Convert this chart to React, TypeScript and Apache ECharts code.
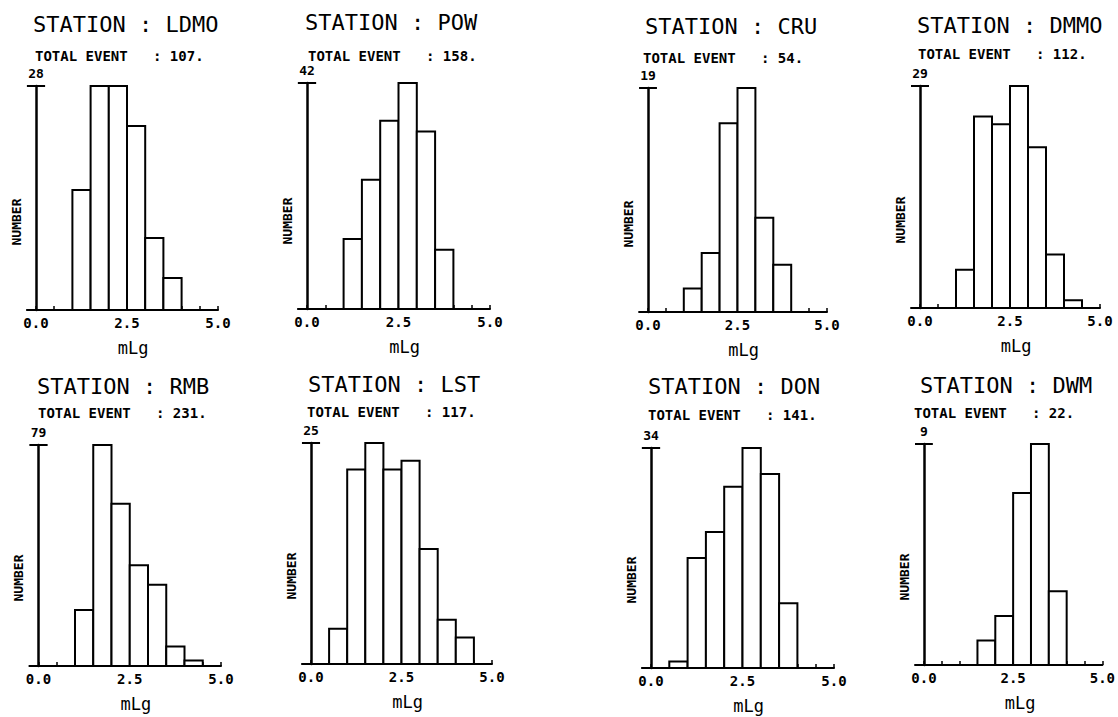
import React, { useEffect, useRef } from "react";
import * as echarts from "echarts";

// ---- data ----
const STATIONS = ["LDMO", "POW", "CRU", "DMMO", "RMB", "LST", "DON", "DWM"];
const BIN_EDGES = [0, 0.5, 1, 1.5, 2, 2.5, 3, 3.5, 4, 4.5, 5];
const COUNTS_LDMO = [0, 0, 15, 28, 28, 23, 9, 4, 0, 0];
const COUNTS_POW = [0, 0, 13, 24, 35, 42, 33, 11, 0, 0];
const COUNTS_CRU = [0, 0, 2, 5, 16, 19, 8, 4, 0, 0];
const COUNTS_DMMO = [0, 0, 5, 25, 24, 29, 21, 7, 1, 0];
const COUNTS_RMB = [0, 0, 20, 79, 58, 36, 29, 7, 2, 0];
const COUNTS_LST = [0, 4, 22, 25, 22, 23, 13, 5, 3, 0];
const COUNTS_DON = [0, 1, 17, 21, 28, 34, 30, 10, 0, 0];
const COUNTS_DWM = [0, 0, 0, 1, 2, 7, 9, 3, 0, 0];
const COUNTS = [
  COUNTS_LDMO, COUNTS_POW, COUNTS_CRU, COUNTS_DMMO,
  COUNTS_RMB, COUNTS_LST, COUNTS_DON, COUNTS_DWM,
];
const X_TICKS = [0, 0.5, 1, 1.5, 2, 2.5, 3, 3.5, 4, 4.5, 5];
const X_LABELS = [0, 2.5, 5];
const X_NAME = "mLg";
const Y_NAME = "NUMBER";

// ---- layout (pixels) ----
const PANELS = [
  { x0: 36, x5: 218, top: 86, base: 310, tx: 33, ty: 24.5, sx: 35, sy: 56 },
  { x0: 307, x5: 490, top: 83, base: 309, tx: 305, ty: 22.5, sx: 308, sy: 56 },
  { x0: 648, x5: 827, top: 88, base: 312, tx: 645, ty: 26.5, sx: 643, sy: 57.5 },
  { x0: 920, x5: 1100, top: 86, base: 308, tx: 917, ty: 25, sx: 918, sy: 54 },
  { x0: 38.5, x5: 221, top: 445, base: 666, tx: 37, ty: 386.5, sx: 38, sy: 413 },
  { x0: 311, x5: 492, top: 443, base: 664, tx: 308, ty: 384.5, sx: 307, sy: 412 },
  { x0: 651, x5: 834, top: 448, base: 668, tx: 648, ty: 386.5, sx: 648, sy: 415 },
  { x0: 924, x5: 1104, top: 444, base: 665, tx: 920, ty: 385, sx: 914, sy: 413 },
];

const MONO = '"DejaVu Sans Mono", "Liberation Mono", monospace';

export default function App() {
  const ref = useRef<HTMLDivElement>(null);

  useEffect(() => {
    if (!ref.current) return;
    const chart = echarts.init(ref.current, undefined, { renderer: "svg" });

    const grids: any[] = [];
    const xAxes: any[] = [];
    const yAxes: any[] = [];
    const series: any[] = [];
    const graphics: any[] = [];

    PANELS.forEach((p, i) => {
      const s = (p.x5 - p.x0) / 5;
      const counts = COUNTS[i];
      const maxv = Math.max(...counts);
      const total = counts.reduce((a, b) => a + b, 0);

      grids.push({
        left: p.x0 - 0.25 * s,
        top: p.top,
        width: 5.25 * s,
        height: p.base - p.top,
        containLabel: false,
      });

      xAxes.push({
        gridIndex: i,
        type: "value",
        min: -0.25,
        max: 5,
        axisLine: { show: true, onZero: false, lineStyle: { color: "#000", width: 2 } },
        axisTick: {
          show: true,
          inside: true,
          length: 4,
          customValues: X_TICKS,
          lineStyle: { color: "#000", width: 1.5 },
        },
        axisLabel: {
          show: true,
          customValues: X_LABELS,
          formatter: (v: number) => v.toFixed(1),
          color: "#000",
          fontFamily: MONO,
          fontWeight: "bold",
          fontSize: 14,
          margin: 6,
        },
        splitLine: { show: false },
      });

      yAxes.push({
        gridIndex: i,
        type: "value",
        min: 0,
        max: maxv,
        axisLine: { show: true, onZero: true, lineStyle: { color: "#000", width: 2.5 } },
        axisTick: { show: false },
        axisLabel: { show: false },
        splitLine: { show: false },
        name: String(maxv),
        nameLocation: "end",
        nameGap: 6,
        nameTextStyle: {
          color: "#000",
          fontFamily: MONO,
          fontWeight: "bold",
          fontSize: 13,
          align: "center",
        },
      });

      series.push({
        type: "custom",
        xAxisIndex: i,
        yAxisIndex: i,
        data: counts
          .map((c, k) => [BIN_EDGES[k], BIN_EDGES[k + 1], c])
          .filter((d) => d[2] > 0),
        encode: { x: [0, 1], y: 2 },
        renderItem: (_params: any, api: any) => {
          const a = api.coord([api.value(0), api.value(2)]);
          const b = api.coord([api.value(1), 0]);
          return {
            type: "rect",
            shape: { x: a[0], y: a[1], width: b[0] - a[0], height: b[1] - a[1] },
            style: { fill: "#fff", stroke: "#000", lineWidth: 2 },
          };
        },
      });

      series.push({
        type: "custom",
        xAxisIndex: i,
        yAxisIndex: i,
        data: [[-0.25, 0.25, maxv]],
        encode: { x: [0, 1], y: 2 },
        renderItem: (_params: any, api: any) => {
          const a = api.coord([api.value(0), api.value(2)]);
          const b = api.coord([api.value(1), api.value(2)]);
          return {
            type: "line",
            shape: { x1: a[0], y1: a[1], x2: b[0], y2: b[1] },
            style: { stroke: "#000", lineWidth: 2 },
          };
        },
      });

      graphics.push({
        type: "text",
        x: p.tx,
        y: p.ty,
        style: {
          text: "STATION : " + STATIONS[i],
          font: `22px ${MONO}`,
          fill: "#000",
          align: "left",
          verticalAlign: "middle",
          textAlign: "left",
          textVerticalAlign: "middle",
        },
      });
      graphics.push({
        type: "text",
        x: p.sx,
        y: p.sy,
        style: {
          text: "TOTAL EVENT   : " + total + ".",
          font: `bold 14px ${MONO}`,
          fill: "#000",
          align: "left",
          verticalAlign: "middle",
          textAlign: "left",
          textVerticalAlign: "middle",
        },
      });
      graphics.push({
        type: "text",
        x: p.x0 - 20,
        y: p.base - 88,
        rotation: Math.PI / 2,
        style: {
          text: Y_NAME,
          font: `bold 13px ${MONO}`,
          fill: "#000",
          align: "center",
          verticalAlign: "middle",
          textAlign: "center",
          textVerticalAlign: "middle",
        },
      });
      graphics.push({
        type: "text",
        x: p.x0 + 2.67 * s,
        y: p.base + 38,
        style: {
          text: X_NAME,
          font: `17px ${MONO}`,
          fill: "#000",
          align: "center",
          verticalAlign: "middle",
          textAlign: "center",
          textVerticalAlign: "middle",
        },
      });
    });

    chart.setOption({
      animation: false,
      backgroundColor: "#fff",
      grid: grids,
      xAxis: xAxes,
      yAxis: yAxes,
      series,
      graphic: graphics,
    });

    return () => chart.dispose();
  }, []);

  return (
    <div
      ref={ref}
      style={{ position: "fixed", left: 0, top: 0, width: 1118, height: 717, background: "#fff" }}
    />
  );
}
